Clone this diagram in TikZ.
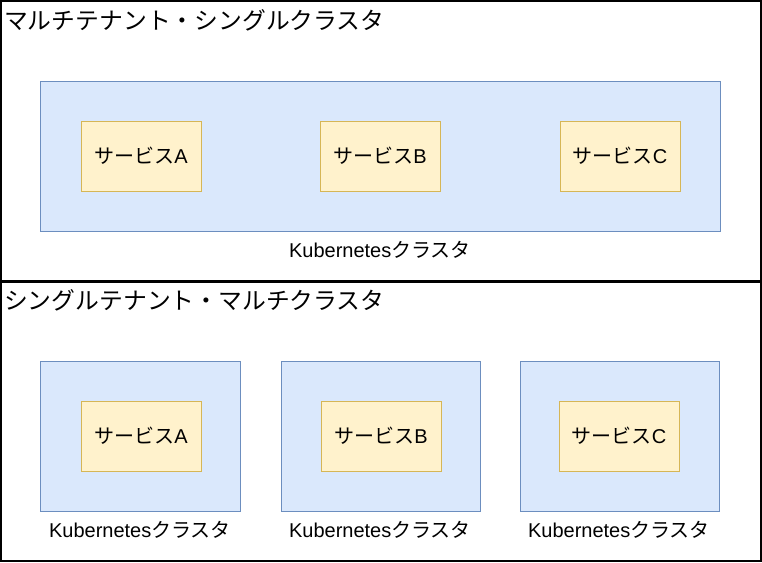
\documentclass[tikz,border=0pt]{standalone}
\usepackage{fontspec}
\setmainfont{Liberation Sans}
\newfontfamily\jpfont{Noto Sans CJK JP}
\definecolor{kfill}{HTML}{DAE8FC}
\definecolor{kline}{HTML}{6C8EBF}
\definecolor{sfill}{HTML}{FFF2CC}
\definecolor{sline}{HTML}{D6B656}
\tikzset{
  frame/.style={draw=black, line width=1.5pt, minimum width=760pt, inner sep=0pt},
  cluster/.style={draw=kline, fill=kfill, line width=0.8pt, minimum height=150pt, inner sep=0pt},
  service/.style={draw=sline, fill=sfill, line width=0.8pt, minimum width=120pt, minimum height=70pt, inner sep=0pt, font=\fontsize{20}{24}\selectfont},
  caption/.style={inner sep=0pt, font=\fontsize{20}{24}\selectfont},
  heading/.style={anchor=west, inner sep=0pt, font=\jpfont\fontsize{23.8}{28}\selectfont}
}
\newcommand{\svc}[1]{{\jpfont サービス}#1}
\newcommand{\kube}{Kubernetes{\jpfont クラスタ}}

\begin{document}
\begin{tikzpicture}[x=1pt,y=-1pt]
    \useasboundingbox (0,0) rectangle (762,562);
    % set up the frames
    \node[frame, minimum height=280pt] (multi) at (381,141) {};
    \node[frame, minimum height=279pt] (single) at (381,421.5) {};
    \node[heading] (multititle) at (4,20) {マルチテナント・シングルクラスタ};
    \node[heading] (singletitle) at (4,300) {シングルテナント・マルチクラスタ};

    % one cluster, three services
    \node[cluster, minimum width=680pt] (K) at (380,156) {};
    \node[service] (SA) at (141,156) {\svc{A}};
    \node[service] (SB) at (380,156) {\svc{B}};
    \node[service] (SC) at (620,156) {\svc{C}};
    \node[caption] (KL) at (380,250) {\kube};

    % one cluster per service
    \node[cluster, minimum width=200pt] (KA) at (140,436) {};
    \node[cluster, minimum width=199pt] (KB) at (380.5,436) {};
    \node[cluster, minimum width=199pt] (KC) at (619.5,436) {};
    \node[service] (TA) at (141,436) {\svc{A}};
    \node[service] (TB) at (381,436) {\svc{B}};
    \node[service] (TC) at (619,436) {\svc{C}};
    \node[caption] (KAL) at (140,530) {\kube};
    \node[caption] (KBL) at (380,530) {\kube};
    \node[caption] (KCL) at (619,530) {\kube};

\end{tikzpicture}
\end{document}
